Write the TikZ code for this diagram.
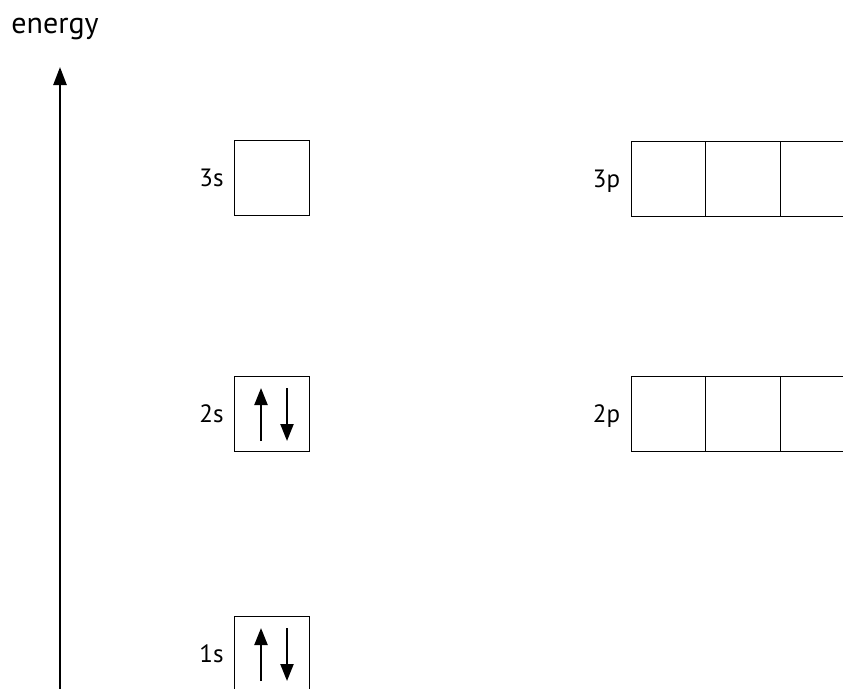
\documentclass[tikz,border=0pt]{standalone}
\usepackage{fontspec}
\setmainfont{PT Sans}
\usetikzlibrary{positioning,arrows.meta}
\tikzset{
  orb/.style={draw,line width=1.3pt,minimum size=74.5pt,inner sep=0pt,outer sep=0pt},
  lbl/.style={font=\fontsize{25}{28}\selectfont,text depth=0pt,inner sep=0pt},
  spin/.style={line width=2.2pt,-{Triangle[length=17pt,width=13pt]}},
}
\begin{document}
\begin{tikzpicture}[x=1pt,y=-1pt]
\useasboundingbox (0,0) rectangle (843,688);
\clip (0,0) rectangle (843,688);
% energy axis
\node[font=\fontsize{30}{33}\selectfont,inner sep=0pt] (energy) at (55,29) {energy};
\coordinate (ebot) at (60,692);
\coordinate (etop) at (60,67);
\draw[line width=2.5pt,-{Triangle[length=18pt,width=13pt]}] (ebot) -- (etop);
% s orbitals
\node[orb] (s3) at (272,178) {};
\node[orb] (s2) at (272,414) {};
\node[orb] (s1) at (272,654) {};
\node[lbl,left=11pt of s3] (l3s) {3s};
\node[lbl,left=11pt of s2] (l2s) {2s};
\node[lbl,left=11pt of s1] (l1s) {1s};
% p orbitals
\node[orb] (p3a) at (668.5,179) {};
\node[orb,right=0pt of p3a] (p3b) {};
\node[orb,right=0pt of p3b] (p3c) {};
\node[orb] (p2a) at (668.5,414) {};
\node[orb,right=0pt of p2a] (p2b) {};
\node[orb,right=0pt of p2b] (p2c) {};
\node[lbl,left=11pt of p3a] (l3p) {3p};
\node[lbl,left=11pt of p2a] (l2p) {2p};
% electron pairs
\foreach \o in {s2,s1} {
  \coordinate (\o up0) at ([shift={(-11,27)}]\o.center);
  \coordinate (\o up1) at ([shift={(-11,-26)}]\o.center);
  \coordinate (\o dn0) at ([shift={(15,-26)}]\o.center);
  \coordinate (\o dn1) at ([shift={(15,27)}]\o.center);
  \draw[spin] (\o up0) -- (\o up1);
  \draw[spin] (\o dn0) -- (\o dn1);
}
\end{tikzpicture}
\end{document}
